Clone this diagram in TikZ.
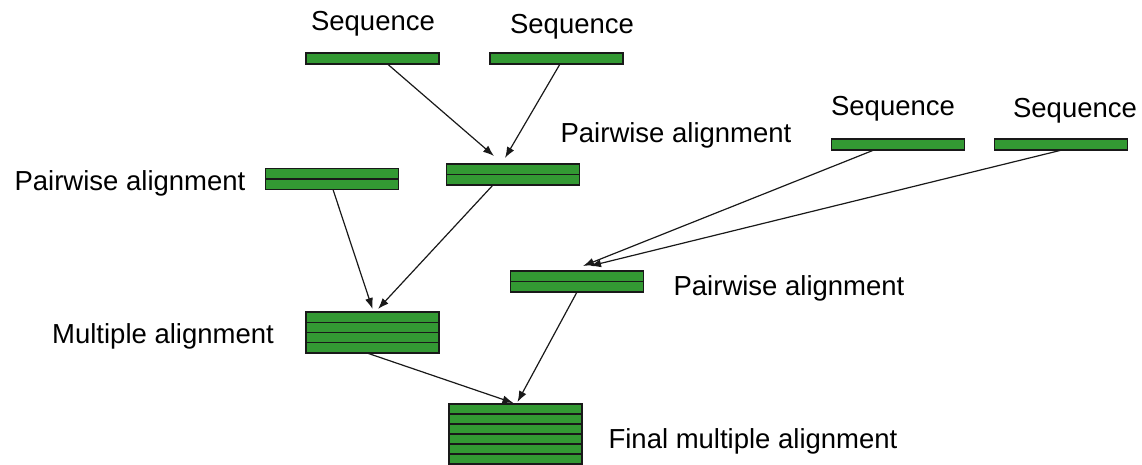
\documentclass[tikz,border=0pt]{standalone}
\usepackage{fontspec}
\setmainfont{Liberation Sans}
\usetikzlibrary{arrows.meta,calc}
\definecolor{bargreen}{RGB}{51,153,51}
\definecolor{barline}{RGB}{25,25,25}
\tikzset{
  bar/.style={draw=barline, fill=bargreen, line width=1.3pt, minimum width=133pt, inner sep=0pt, outer sep=0pt},
  lbl/.style={font=\fontsize{27.5}{32}\selectfont, inner sep=0pt},
  arr/.style={draw=black!90, line width=1.2pt, -{Latex[length=11pt,width=8pt]}},
  rowline/.style={draw=barline, line width=1.3pt}
}
\begin{document}
\begin{tikzpicture}[x=1pt,y=-1pt]
\useasboundingbox (0,0) rectangle (1142,465);
% bars
\node[bar, minimum height=11pt] (s1) at (372.5,58.5) {};
\node[bar, minimum height=11pt] (s2) at (556.5,58.5) {};
\node[bar, minimum height=11pt] (s3) at (898,144.5) {};
\node[bar, minimum height=11pt] (s4) at (1061,144.5) {};
\node[bar, minimum height=21pt] (pa) at (332,179) {};
\node[bar, minimum height=21pt] (pb) at (513,174.5) {};
\node[bar, minimum height=21pt] (pc) at (577,281.5) {};
\node[bar, minimum height=41pt] (ma) at (372.5,332.5) {};
\node[bar, minimum height=60pt] (fa) at (515.5,434) {};
% row separators
\foreach \n in {pa,pb,pc}{\draw[rowline] (\n.west) -- (\n.east);}
\foreach \k in {1,2,3}{\draw[rowline] ($(ma.north west)!\k/4!(ma.south west)$) -- ($(ma.north east)!\k/4!(ma.south east)$);}
\foreach \k in {1,...,5}{\draw[rowline] ($(fa.north west)!\k/6!(fa.south west)$) -- ($(fa.north east)!\k/6!(fa.south east)$);}
% labels
\node[lbl] (l1) at (373,24) {Sequence};
\node[lbl] (l2) at (572,27) {Sequence};
\node[lbl] (l3) at (893,109) {Sequence};
\node[lbl] (l4) at (1075,111) {Sequence};
\node[lbl] (lb) at (676,135) {Pairwise alignment};
\node[lbl] (la) at (130,183) {Pairwise alignment};
\node[lbl] (lc) at (789,288) {Pairwise alignment};
\node[lbl] (lm) at (163,336) {Multiple alignment};
\node[lbl] (lf) at (753,441) {Final multiple alignment};
% arrows
\draw[arr] ([xshift=15pt]s1.south) -- ([xshift=-19pt,yshift=8pt]pb.north);
\draw[arr] ([xshift=3.5pt]s2.south) -- ([xshift=-8pt,yshift=6pt]pb.north);
\draw[arr] ([xshift=1pt]pa.south) -- ([xshift=0pt,yshift=3pt]ma.north);
\draw[arr] ([xshift=-20pt]pb.south) -- ([xshift=5.5pt,yshift=3pt]ma.north);
\draw[arr] ([xshift=-24pt]s3.south) -- ([xshift=6pt,yshift=5pt]pc.north);
\draw[arr] ([xshift=1pt]s4.south) -- ([xshift=13pt,yshift=5pt]pc.north);
\draw[arr] (pc.south) -- ([xshift=2pt,yshift=2pt]fa.north);
\draw[arr] ([xshift=-5.5pt]ma.south) -- ([xshift=-2pt,yshift=1pt]fa.north);
\end{tikzpicture}
\end{document}
